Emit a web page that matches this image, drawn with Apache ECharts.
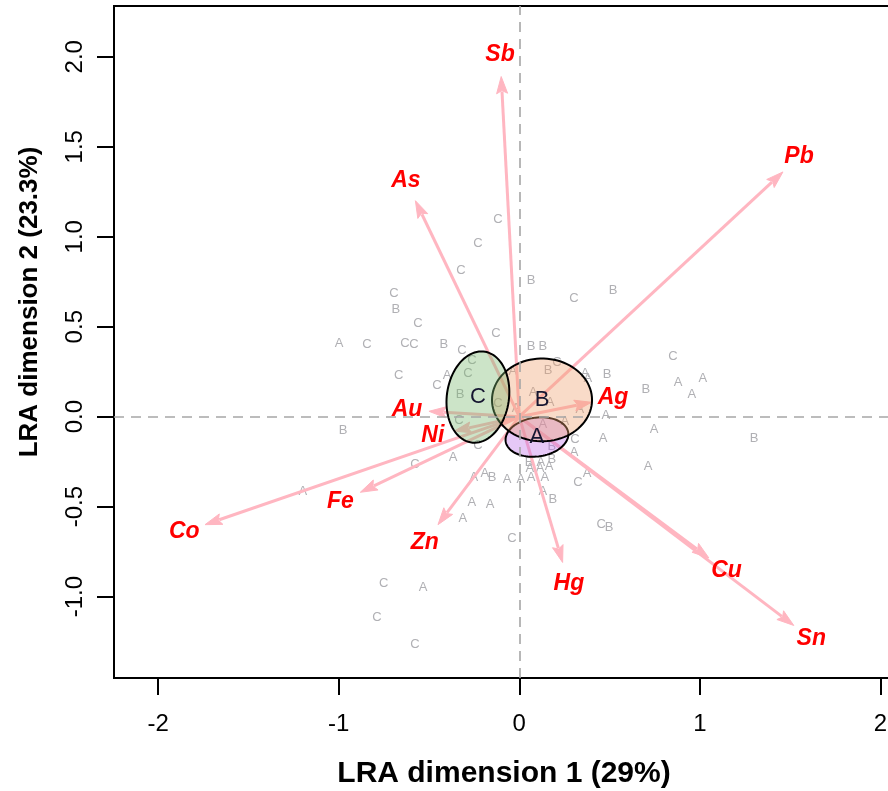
<!DOCTYPE html>
<html>
<head>
<meta charset="utf-8">
<script src="https://cdn.jsdelivr.net/npm/echarts@6/dist/echarts.min.js"></script>
<style>
  html, body { margin: 0; padding: 0; background: #fff; }
  #chart { width: 888px; height: 791px; }
</style>
</head>
<body>
<div id="chart"></div>
<script>
// Axis ranges and tick values
const xRange = [-2.244, 2.075];
const yRange = [-1.452, 2.282];
const xTicks = [-2, -1, 0, 1, 2];
const yTicks = [-1.0, -0.5, 0.0, 0.5, 1.0, 1.5, 2.0];

// Sample row coordinates (LRA dimensions 1 and 2) and their group
const sampleGroup = [
  'C','C','C','B','C','B','C','C','A','C',
  'C','C','B','C','B','B','C','A','C','C',
  'A','B','C','A','A','B','C','B','C','A',
  'A','A','B','C','B','A','A','C','A','A',
  'A','C','A','A','A','C','A','B','C','A',
  'B','A','B','A','A','A','A','A','B','A',
  'A','A','A','C','A','A','B','A','A','A',
  'C','C','B','A','A','B','B','C','A','C',
  'A','C','C'
];
const sampleX = [
  -0.118, -0.229, -0.323,  0.065, -0.694, -0.683, -0.561, -0.129, -0.998, -0.843,
  -0.633, -0.583, -0.417, -0.317,  0.065,  0.131, -0.667, -0.400, -0.262, -0.284,
  -0.035,  0.159,  0.209,  0.364,  0.380,  0.486,  0.303,  0.519,  0.851,  0.879,
   1.017,  0.956,  0.701, -0.456, -0.328,  0.076,  0.170, -0.118, -0.018,  0.336,
   0.480, -0.334,  0.131,  0.253,  0.464, -0.229, -0.367,  0.181,  0.308,  0.303,
   0.054,  0.120,  0.181,  0.059,  0.115,  0.165, -0.251, -0.190, -0.151, -0.068,
   0.009,  0.065,  0.142,  0.325,  0.375,  0.131,  0.186, -0.262, -0.162, -0.312,
  -0.040,  0.453,  0.497,  0.746,  0.713,  1.300, -0.976, -0.578, -1.198, -0.750,
  -0.533, -0.788, -0.578
];
const sampleY = [
   1.097,  0.965,  0.815,  0.759,  0.687,  0.598,  0.520,  0.465,  0.409,  0.404,
   0.409,  0.404,  0.404,  0.370,  0.393,  0.393,  0.232,  0.232,  0.310,  0.243,
   0.254,  0.259,  0.304,  0.243,  0.215,  0.237,  0.659,  0.704,  0.337,  0.193,
   0.215,  0.121,  0.154,  0.176,  0.121,  0.137,  0.082,  0.076,  0.048,  0.043,
   0.009, -0.018, -0.041, -0.024, -0.118, -0.157, -0.229, -0.168, -0.129, -0.196,
  -0.252, -0.252, -0.240, -0.290, -0.285, -0.279, -0.335, -0.318, -0.335, -0.351,
  -0.351, -0.335, -0.340, -0.363, -0.313, -0.418, -0.457, -0.479, -0.485, -0.563,
  -0.679, -0.596, -0.613, -0.068, -0.279, -0.118, -0.079, -0.268, -0.413, -0.926,
  -0.948, -1.113, -1.263
];

// Element (column) coordinates, drawn as arrows from the origin
const elementNames = ['Sb', 'Pb', 'As', 'Ag', 'Au', 'Ni', 'Fe', 'Co', 'Zn', 'Hg', 'Cu', 'Sn'];
const elementX = [-0.100, 1.460, -0.575, 0.400, -0.500, -0.360, -0.880, -1.740, -0.450, 0.240, 1.050, 1.520];
const elementY = [ 1.890, 1.360,  1.200, 0.080,  0.030, -0.080, -0.420, -0.600, -0.600, -0.810, -0.785, -1.160];

// Group concentration ellipses: centre, semi-axes, rotation (degrees)
const groupNames = ['A', 'B', 'C'];
const groupCenterX = [0.098, 0.126, -0.229];
const groupCenterY = [-0.113, 0.093, 0.109];
const groupRadiusX = [0.175, 0.277, 0.172];
const groupRadiusY = [0.108, 0.230, 0.255];
const groupAngle = [8, 0, -8];

const groupFill = {
  A: 'rgba(190,110,235,0.38)',
  B: 'rgba(240,160,110,0.38)',
  C: 'rgba(120,185,110,0.38)'
};

const tickFont = "'Liberation Sans Narrow', 'Arial Narrow', 'Liberation Sans', Arial, sans-serif";
const mainFont = "'Liberation Sans', Arial, sans-serif";
const arrowColor = '#ffb6c1';

const chart = echarts.init(document.getElementById('chart'), null, { renderer: 'canvas' });

function ellipsePoints(i, api) {
  const pts = [];
  const th = groupAngle[i] * Math.PI / 180;
  const n = 90;
  for (let k = 0; k < n; k++) {
    const t = 2 * Math.PI * k / n;
    const dx = groupRadiusX[i] * Math.cos(t);
    const dy = groupRadiusY[i] * Math.sin(t);
    const x = groupCenterX[i] + dx * Math.cos(th) - dy * Math.sin(th);
    const y = groupCenterY[i] + dx * Math.sin(th) + dy * Math.cos(th);
    pts.push(api.coord([x, y]));
  }
  return pts;
}

const option = {
  backgroundColor: '#ffffff',
  animation: false,
  grid: {
    left: 114, top: 6, width: 780, height: 672,
    outerBoundsMode: 'none', containLabel: false,
    show: true, borderColor: '#000', borderWidth: 2, backgroundColor: 'transparent'
  },
  xAxis: {
    type: 'value', min: xRange[0], max: xRange[1],
    splitLine: { show: false },
    axisLine: { show: false, onZero: false },
    axisTick: { show: true, inside: false, length: 17, customValues: xTicks,
      lineStyle: { color: '#000', width: 2 } },
    axisLabel: { show: true, customValues: xTicks, margin: 34, color: '#000',
      fontSize: 24, fontFamily: tickFont, formatter: v => String(Math.round(v)) }
  },
  yAxis: {
    type: 'value', min: yRange[0], max: yRange[1],
    splitLine: { show: false },
    axisLine: { show: false, onZero: false },
    axisTick: { show: true, inside: false, length: 17, customValues: yTicks,
      lineStyle: { color: '#000', width: 2 } },
    axisLabel: { show: true, customValues: yTicks, margin: 27, rotate: 90, color: '#000',
      fontSize: 24, fontFamily: tickFont, formatter: v => v.toFixed(1) }
  },
  graphic: [
    {
      type: 'text', x: 504, y: 774,
      style: { text: 'LRA dimension 1 (29%)', fill: '#000', fontSize: 30, fontWeight: 'bold',
        fontFamily: mainFont, align: 'center', verticalAlign: 'middle' }
    },
    {
      type: 'text', x: 30, y: 302, rotation: Math.PI / 2,
      style: { text: 'LRA dimension 2 (23.3%)', fill: '#000', fontSize: 26, fontWeight: 'bold',
        fontFamily: mainFont, align: 'center', verticalAlign: 'middle' }
    }
  ],
  series: [
    // sample letters
    {
      type: 'custom',
      coordinateSystem: 'cartesian2d',
      data: sampleX.map((x, i) => [x, sampleY[i], i]),
      encode: { x: 0, y: 1 },
      z: 2,
      renderItem: (params, api) => {
        const p = api.coord([api.value(0), api.value(1)]);
        return {
          type: 'text', x: p[0], y: p[1],
          style: { text: sampleGroup[api.value(2)], fill: '#b0b0b4', fontSize: 13,
            fontFamily: mainFont, align: 'center', verticalAlign: 'middle' }
        };
      },
      markLine: {
        silent: true, symbol: 'none', label: { show: false },
        lineStyle: { color: '#a6a6a6', type: [10, 7], width: 1.6 },
        data: [{ xAxis: 0 }, { yAxis: 0 }]
      }
    },
    // element arrows
    {
      type: 'custom',
      coordinateSystem: 'cartesian2d',
      data: elementX.map((x, i) => [x, elementY[i], i]),
      encode: { x: 0, y: 1 },
      z: 3,
      renderItem: (params, api) => {
        const o = api.coord([0, 0]);
        const t = api.coord([api.value(0), api.value(1)]);
        const dx = t[0] - o[0], dy = t[1] - o[1];
        const len = Math.sqrt(dx * dx + dy * dy);
        const ux = dx / len, uy = dy / len;
        const head = 17, half = 5.5;
        const bx = t[0] - ux * head, by = t[1] - uy * head;
        return {
          type: 'group',
          children: [
            { type: 'line', shape: { x1: o[0], y1: o[1], x2: bx + ux * 2, y2: by + uy * 2 },
              style: { stroke: arrowColor, lineWidth: 3 } },
            { type: 'polygon', shape: { points: [
                [t[0], t[1]],
                [bx - uy * half, by + ux * half],
                [bx + ux * 3, by + uy * 3],
                [bx + uy * half, by - ux * half]
              ] },
              style: { fill: arrowColor, stroke: arrowColor, lineWidth: 1 } }
          ]
        };
      }
    },
    // group ellipses
    {
      type: 'custom',
      coordinateSystem: 'cartesian2d',
      data: groupNames.map((g, i) => [groupCenterX[i], groupCenterY[i], i]),
      encode: { x: 0, y: 1 },
      z: 4,
      renderItem: (params, api) => {
        const i = api.value(2);
        return {
          type: 'polygon',
          shape: { points: ellipsePoints(i, api) },
          style: { fill: groupFill[groupNames[i]], stroke: '#000', lineWidth: 2 }
        };
      }
    },
    // group letters at ellipse centres
    {
      type: 'custom',
      coordinateSystem: 'cartesian2d',
      data: groupNames.map((g, i) => [groupCenterX[i], groupCenterY[i], i]),
      encode: { x: 0, y: 1 },
      z: 5,
      renderItem: (params, api) => {
        const p = api.coord([api.value(0), api.value(1)]);
        return {
          type: 'text', x: p[0], y: p[1],
          style: { text: groupNames[api.value(2)], fill: '#151530', fontSize: 22,
            fontFamily: mainFont, align: 'center', verticalAlign: 'middle' }
        };
      }
    },
    // element labels beyond arrow tips
    {
      type: 'custom',
      coordinateSystem: 'cartesian2d',
      data: elementX.map((x, i) => [x, elementY[i], i]),
      encode: { x: 0, y: 1 },
      z: 6,
      renderItem: (params, api) => {
        const o = api.coord([0, 0]);
        const t = api.coord([api.value(0), api.value(1)]);
        const dx = t[0] - o[0], dy = t[1] - o[1];
        const len = Math.sqrt(dx * dx + dy * dy);
        const off = 22;
        return {
          type: 'text', x: t[0] + dx / len * off, y: t[1] + dy / len * off,
          style: { text: elementNames[api.value(2)], fill: '#ff0000', fontSize: 23,
            fontWeight: 'bold', fontStyle: 'italic', fontFamily: mainFont,
            align: 'center', verticalAlign: 'middle' }
        };
      }
    }
  ]
};

chart.setOption(option);
</script>
</body>
</html>
